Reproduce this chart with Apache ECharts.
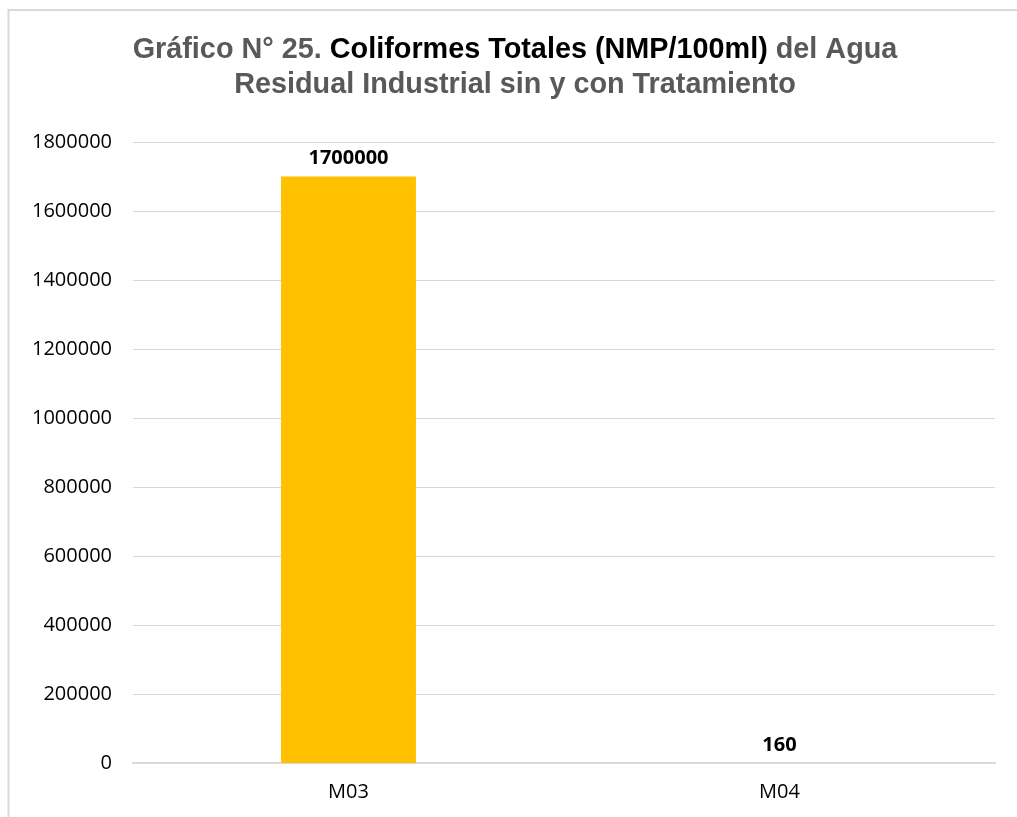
<!DOCTYPE html>
<html>
<head>
<meta charset="utf-8">
<script src="https://cdn.jsdelivr.net/npm/echarts@6/dist/echarts.min.js"></script>
<style>
  html, body { margin: 0; padding: 0; background: #fff; }
  #chart { width: 1017px; height: 817px; }
</style>
</head>
<body>
<div id="chart"></div>
<script>
// Muestras y coliformes totales (NMP/100ml)
const categories = ['M03', 'M04'];
const coliformes = [1700000, 160];
const yTicks = { min: 0, max: 1800000, interval: 200000 };

const chart = echarts.init(document.getElementById('chart'), null, { renderer: 'canvas' });

const option = {
  backgroundColor: '#ffffff',
  animation: false,
  title: {
    text: '{g|Gráfico N° 25. }{b|Coliformes Totales (NMP/100ml)}{g| del Agua}\n{g|Residual Industrial sin y con Tratamiento}',
    left: 510,
    top: 28,
    textAlign: 'center',
    textStyle: {
      rich: {
        g: { fontFamily: 'Liberation Sans', fontWeight: 'bold', fontSize: 28.8, color: '#595959', lineHeight: 35 },
        b: { fontFamily: 'Liberation Sans', fontWeight: 'bold', fontSize: 28.8, color: '#000000', lineHeight: 35 }
      }
    }
  },
  graphic: [{
    type: 'rect',
    shape: { x: 8.5, y: 10, width: 1040, height: 840 },
    style: { fill: 'none', stroke: '#d9d9d9', lineWidth: 2 },
    silent: true
  }],
  grid: { left: 133, right: 22, top: 142, bottom: 54, containLabel: false },
  xAxis: {
    type: 'category',
    data: categories,
    axisLine: { show: true, lineStyle: { color: '#d9d9d9', width: 2 } },
    axisTick: { show: false },
    axisLabel: { fontFamily: 'Open Sans', fontSize: 20, color: '#000000', margin: 19 }
  },
  yAxis: {
    type: 'value',
    min: yTicks.min,
    max: yTicks.max,
    interval: yTicks.interval,
    axisLine: { show: false },
    axisTick: { show: false },
    splitLine: { lineStyle: { color: '#d9d9d9', width: 1 } },
    axisLabel: {
      fontFamily: 'Open Sans', fontSize: 20, color: '#000000', margin: 21,
      formatter: (v) => String(v)
    }
  },
  series: [{
    type: 'bar',
    data: coliformes,
    barWidth: '31.3%',
    itemStyle: { color: '#FFC000' },
    label: {
      show: true,
      position: 'top',
      distance: 8,
      fontFamily: 'Open Sans',
      fontWeight: 'bold',
      fontSize: 20,
      color: '#000000'
    }
  }]
};

chart.setOption(option);
</script>
</body>
</html>
